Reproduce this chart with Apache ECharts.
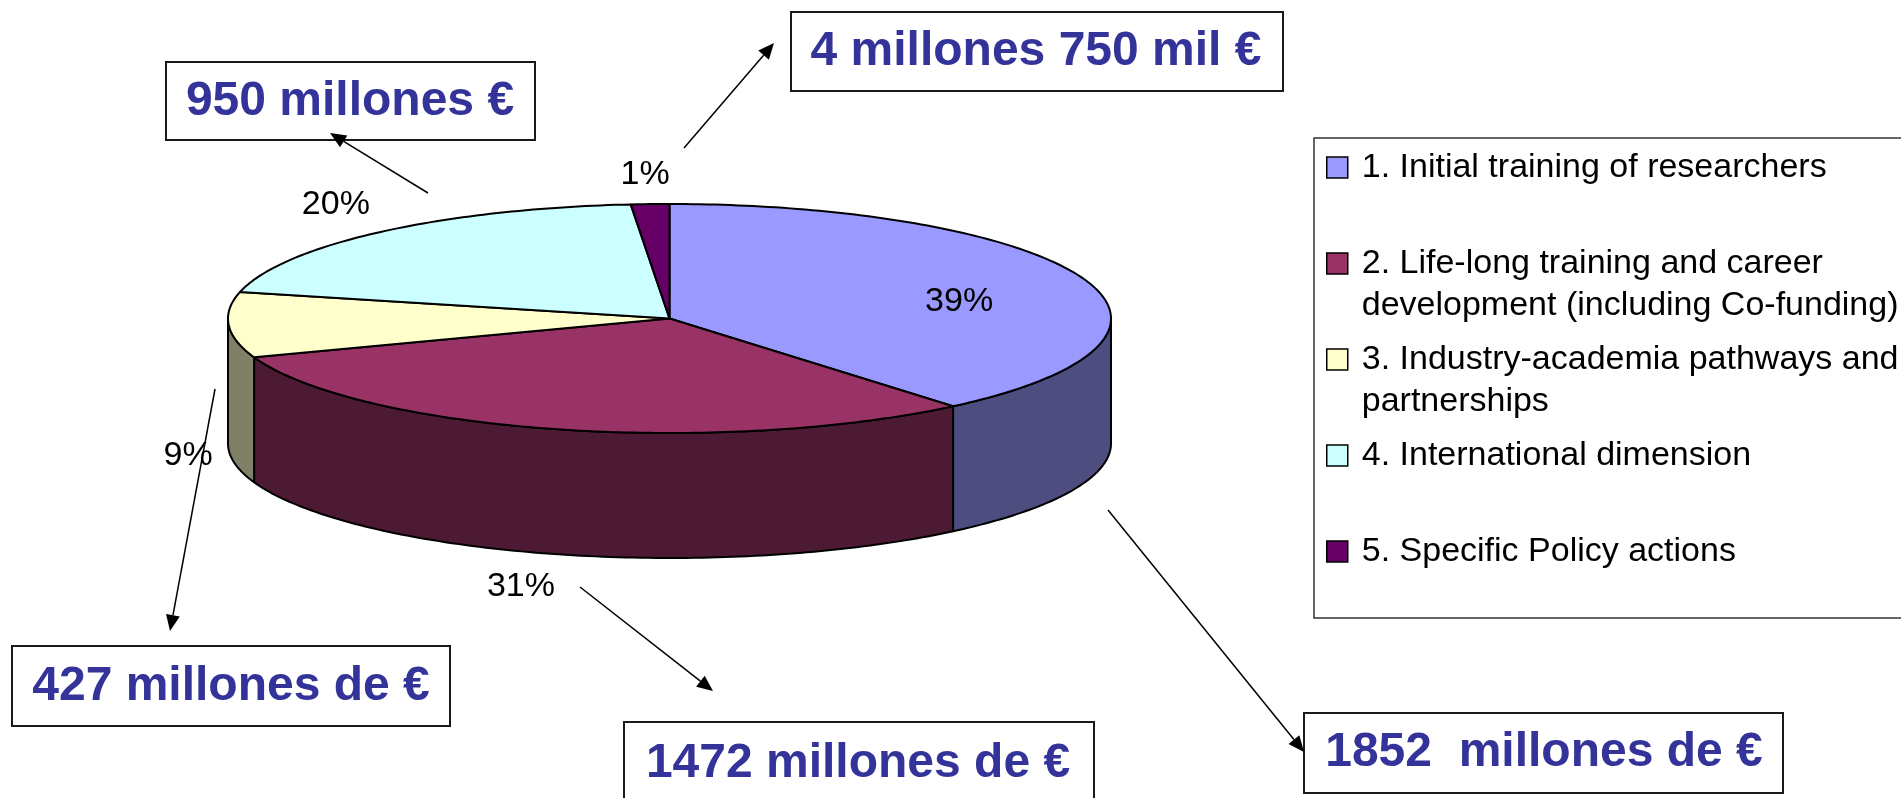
<!DOCTYPE html>
<html>
<head>
<meta charset="utf-8">
<script src="https://cdn.jsdelivr.net/npm/echarts@6/dist/echarts.min.js"></script>
<style>
  html, body { margin: 0; padding: 0; background: #fff; }
  #chart { width: 1901px; height: 798px; }
</style>
</head>
<body>
<div id="chart"></div>
<script>
const categories = [
  '1. Initial training of researchers',
  '2. Life-long training and career\ndevelopment (including Co-funding)',
  '3. Industry-academia pathways and\npartnerships',
  '4. International dimension',
  '5. Specific Policy actions'
]
const shares = [38.9, 30.6, 9.2, 19.9, 1.4]
const amounts = [
  '1852  millones de €',
  '1472 millones de €',
  '427 millones de €',
  '950 millones €',
  '4 millones 750 mil €'
]

// styles
const topColors = ['#9999ff', '#993366', '#ffffcc', '#ccffff', '#660066']
const sideColors = ['#4d4d80', '#4d1a33', '#808066', '#668080', '#330033']
const FONT = "'Liberation Sans', Arial, sans-serif"

// pseudo-3D pie layout (pixels)
const PIE = { cx: 669.5, cy: 318.5, rx: 441.5, ry: 114.5, depth: 125 }
// label placement per slice: [x factor, y factor, depth factor]
const labelPlace = [[0.698, 0.422, 0], [1.29, 1.298, 1], [1.092, 1.93, 1], [1.155, 1.311, 0], [1.26, 1.255, 0]]

// callout boxes and arrows, same order as categories
const boxes = [
  { x: 1304, y: 713, w: 479, h: 80, tx: 1544, ty: 753 },
  { x: 624, y: 722, w: 470, h: 100, tx: 858, ty: 764 },
  { x: 12, y: 646, w: 438, h: 80, tx: 231, ty: 687 },
  { x: 166, y: 62, w: 369, h: 78, tx: 350, ty: 101.5 },
  { x: 791, y: 12, w: 492, h: 79, tx: 1036, ty: 52 }
]
const arrows = [
  [[1108, 510], [1304, 752]],
  [[580, 587], [713, 691]],
  [[215, 389], [170, 631]],
  [[428, 193], [330, 133]],
  [[684, 148], [774, 43]]
]

const total = shares.reduce((s, v) => s + v, 0)
const startDeg = []
shares.reduce((acc, v, i) => { startDeg[i] = acc; return acc + v / total * 360 }, 0)

function pt(deg, dz) {
  const r = deg * Math.PI / 180
  return [PIE.cx + PIE.rx * Math.sin(r), PIE.cy - PIE.ry * Math.cos(r) + dz]
}
function arc(a0, a1, dz) {
  const n = Math.max(2, Math.ceil(a1 - a0))
  const out = []
  for (let k = 0; k <= n; k++) out.push(pt(a0 + (a1 - a0) * k / n, dz))
  return out
}

function renderSlice(params, api) {
  const i = params.seriesIndex
  const a0 = startDeg[i]
  const a1 = a0 + api.value(0) / total * 360
  const children = []
  // front wall, only between 90 and 270 degrees
  const s0 = Math.max(a0, 90), s1 = Math.min(a1, 270)
  if (s1 > s0) {
    const pts = arc(s0, s1, 0).concat(arc(s0, s1, PIE.depth).reverse())
    children.push({
      type: 'polygon',
      shape: { points: pts },
      style: { fill: sideColors[i], stroke: '#000', lineWidth: 2, lineJoin: 'round' }
    })
  }
  children.push({
    type: 'polygon',
    shape: { points: [[PIE.cx, PIE.cy]].concat(arc(a0, a1, 0)) },
    style: { fill: topColors[i], stroke: '#000', lineWidth: 2, lineJoin: 'round' }
  })
  const mid = (a0 + a1) / 2 * Math.PI / 180
  const lp = labelPlace[i]
  children.push({
    type: 'text',
    x: PIE.cx + PIE.rx * lp[0] * Math.sin(mid),
    y: PIE.cy - PIE.ry * lp[1] * Math.cos(mid) + PIE.depth * lp[2],
    style: {
      text: Math.round(api.value(0)) + '%',
      fill: '#000',
      font: '34px ' + FONT,
      align: 'center',
      verticalAlign: 'middle'
    }
  })
  return { type: 'group', children: children }
}

function arrow(p, q) {
  const dx = q[0] - p[0], dy = q[1] - p[1]
  const len = Math.hypot(dx, dy), ux = dx / len, uy = dy / len
  const hl = 16, hw = 7
  const bx = q[0] - ux * hl, by = q[1] - uy * hl
  return [
    { type: 'line', shape: { x1: p[0], y1: p[1], x2: bx, y2: by }, style: { stroke: '#000', lineWidth: 1.5 } },
    { type: 'polygon', shape: { points: [q, [bx - uy * hw, by + ux * hw], [bx + uy * hw, by - ux * hw]] }, style: { fill: '#000' } }
  ]
}

const graphics = []
boxes.forEach((b, i) => {
  graphics.push({
    type: 'rect',
    shape: { x: b.x, y: b.y, width: b.w, height: b.h },
    style: { fill: '#fff', stroke: '#1a1a1a', lineWidth: 2 }
  })
  graphics.push({
    type: 'text',
    x: b.tx,
    y: b.ty,
    style: {
      text: amounts[i],
      fill: '#333399',
      font: 'bold 48px ' + FONT,
      align: 'center',
      verticalAlign: 'middle'
    }
  })
  arrow(arrows[i][0], arrows[i][1]).forEach(g => graphics.push(g))
})

const chart = echarts.init(document.getElementById('chart'))
chart.setOption({
  animation: false,
  backgroundColor: '#fff',
  legend: {
    data: categories,
    orient: 'vertical',
    left: 1314,
    top: 138,
    padding: [8.5, 40, 3.5, 12],
    itemGap: 12,
    itemWidth: 30,
    itemHeight: 63,
    icon: 'path://M0,0h21v21h-21zM30,63',
    itemStyle: { borderColor: '#000', borderWidth: 1.5 },
    borderColor: '#333',
    borderWidth: 1.5,
    backgroundColor: '#fff',
    selectedMode: false,
    formatter: name => (name.indexOf('\n') < 0 ? name + '\n ' : name),
    textStyle: { fontFamily: FONT, fontSize: 34, lineHeight: 42, color: '#000' }
  },
  graphic: graphics,
  series: categories.map((name, i) => ({
    type: 'custom',
    name: name,
    coordinateSystem: 'none',
    silent: true,
    itemStyle: { color: topColors[i] },
    data: [shares[i]],
    renderItem: renderSlice
  }))
})
window.addEventListener('resize', () => chart.resize())
</script>
</body>
</html>
